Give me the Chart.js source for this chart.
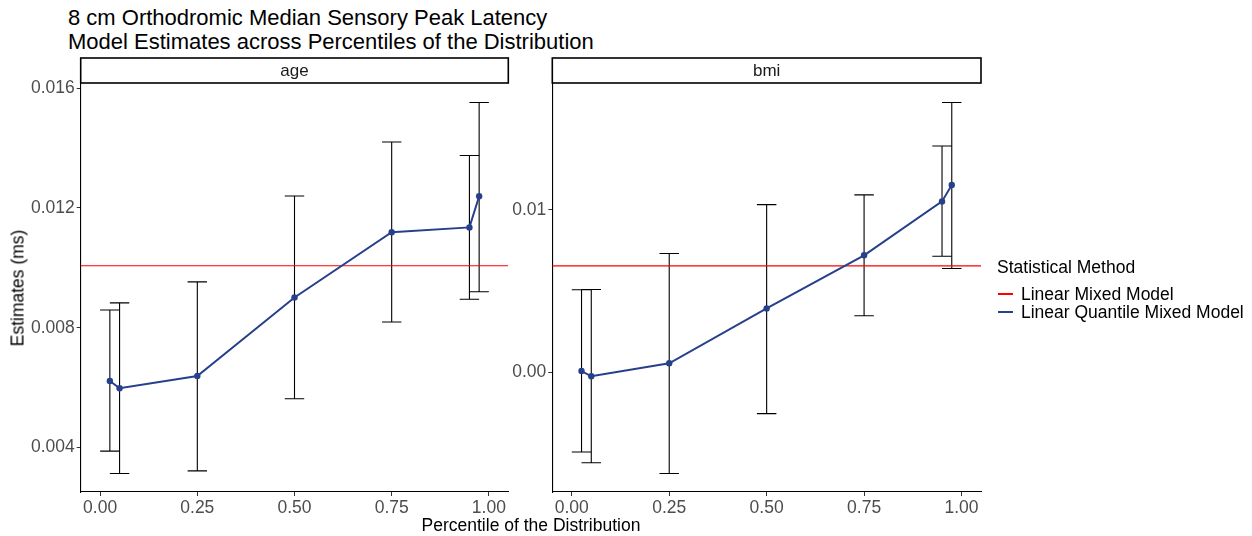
<!DOCTYPE html>
<html><head><meta charset="utf-8">
<script src="https://cdn.jsdelivr.net/npm/chart.js@4.4.0/dist/chart.umd.min.js"></script>
<style>
body{margin:0;background:#fff;}
#wrap{position:relative;width:1252px;height:536px;overflow:hidden;background:#fff;font-family:"Liberation Sans",Arial,sans-serif;color:#000;}
canvas{position:absolute;top:0;}
.t{position:absolute;white-space:nowrap;}
.key{position:absolute;height:2px;width:15px;}
</style></head><body>
<div id="wrap">
<div class="t" style="left:68px;top:6px;font-size:22px;line-height:24px;color:#000;">8 cm Orthodromic Median Sensory Peak Latency<br>Model Estimates across Percentiles of the Distribution</div>
<canvas id="c1" width="520" height="536" style="left:0;width:520px;height:536px"></canvas>
<canvas id="c2" width="520" height="536" style="left:480px;width:520px;height:536px"></canvas>
<div class="t" style="left:18px;top:288px;font-size:17.5px;transform:translate(-50%,-50%) rotate(-90deg);">Estimates (ms)</div>
<div class="t" style="left:531px;top:525px;font-size:17.5px;transform:translate(-50%,-50%);">Percentile of the Distribution</div>
<div class="t" style="left:997px;top:267px;font-size:17.5px;transform:translateY(-50%);">Statistical Method</div>
<div class="key" style="left:998px;top:293px;background:#FF0000;"></div>
<div class="t" style="left:1021px;top:294px;font-size:17.5px;transform:translateY(-50%);">Linear Mixed Model</div>
<div class="key" style="left:998px;top:311px;background:#27408B;"></div>
<div class="t" style="left:1021px;top:312px;font-size:17.5px;transform:translateY(-50%);">Linear Quantile Mixed Model</div>
</div>
<script>
// ---- data ----
const percentiles = [0.025, 0.05, 0.25, 0.5, 0.75, 0.95, 0.975];
const ageEstimate = [0.00622, 0.00598, 0.00639, 0.00901, 0.01119, 0.01135, 0.01239];
const ageLower    = [0.00388, 0.00313, 0.00322, 0.00563, 0.00819, 0.00895, 0.00920];
const ageUpper    = [0.00859, 0.00883, 0.00953, 0.01240, 0.01420, 0.01375, 0.01552];
const ageLMM = 0.01007;
const bmiEstimate = [0.00006, -0.00026, 0.00054, 0.00392, 0.00719, 0.01051, 0.01152];
const bmiLower    = [-0.00492, -0.00559, -0.00625, -0.00256, 0.00347, 0.00713, 0.00638];
const bmiUpper    = [0.00507, 0.00508, 0.00730, 0.01031, 0.01091, 0.01392, 0.01660];
const bmiLMM = 0.00654;
const xTicks = [0, 0.25, 0.5, 0.75, 1];
const xTickLabels = ['0.00', '0.25', '0.50', '0.75', '1.00'];
const ageYTicks = [0.004, 0.008, 0.012, 0.016];
const ageYTickLabels = ['0.004', '0.008', '0.012', '0.016'];
const bmiYTicks = [0, 0.01];
const bmiYTickLabels = ['0.00', '0.01'];
const facetLabels = ['age', 'bmi'];
const seriesLabels = ['Linear Mixed Model', 'Linear Quantile Mixed Model'];
const xMin = -0.05, xMax = 1.05;
const ageYMin = 0.002514, ageYMax = 0.016139;
const bmiYMin = -0.007388, bmiYMax = 0.01774;
const capHalf = 0.025;

const FONT = '"Liberation Sans", Arial, sans-serif';
const BLUE = '#27408B', RED = '#FF0000';

const errorBars = {
  id: 'errorBars',
  beforeDatasetsDraw(chart, args, opts) {
    const ctx = chart.ctx, x = chart.scales.x, y = chart.scales.y;
    ctx.save();
    ctx.strokeStyle = '#000';
    ctx.lineWidth = 1.1;
    opts.lower.forEach((lo, i) => {
      const px = x.getPixelForValue(percentiles[i]);
      const pl = x.getPixelForValue(percentiles[i] - capHalf);
      const pr = x.getPixelForValue(percentiles[i] + capHalf);
      const yl = y.getPixelForValue(lo), yu = y.getPixelForValue(opts.upper[i]);
      ctx.beginPath();
      ctx.moveTo(px, yl); ctx.lineTo(px, yu);
      ctx.moveTo(pl, yl); ctx.lineTo(pr, yl);
      ctx.moveTo(pl, yu); ctx.lineTo(pr, yu);
      ctx.stroke();
    });
    ctx.restore();
  }
};
const strip = {
  id: 'strip',
  afterDraw(chart, args, opts) {
    const ctx = chart.ctx, a = chart.chartArea;
    ctx.save();
    ctx.fillStyle = '#fff';
    ctx.strokeStyle = '#000';
    ctx.lineWidth = 1.6;
    ctx.fillRect(a.left, 58, a.right - a.left, 25);
    ctx.strokeRect(a.left, 58, a.right - a.left, 25);
    ctx.fillStyle = '#1A1A1A';
    ctx.font = '17px ' + FONT;
    ctx.textAlign = 'center';
    ctx.textBaseline = 'middle';
    ctx.fillText(opts.label, (a.left + a.right) / 2, 71);
    ctx.restore();
  }
};

function makeChart(id, est, lo, up, lmm, yMin, yMax, yTicks, yLabels, yWidth, padRight, label) {
  return new Chart(document.getElementById(id), {
    type: 'scatter',
    data: {
      datasets: [
        { label: seriesLabels[0], data: [{x: xMin, y: lmm}, {x: xMax, y: lmm}], showLine: true,
          borderColor: RED, borderWidth: 1.1, pointRadius: 0, order: 2 },
        { label: seriesLabels[1], data: percentiles.map((p, i) => ({x: p, y: est[i]})), showLine: true,
          borderColor: BLUE, backgroundColor: BLUE, borderWidth: 2, pointRadius: 3.2,
          pointBorderWidth: 0, order: 1 }
      ]
    },
    options: {
      responsive: false, animation: false, devicePixelRatio: 1,
      layout: { padding: { top: 84, right: padRight, bottom: 0, left: 0 } },
      plugins: { legend: { display: false }, tooltip: { enabled: false },
        errorBars: { lower: lo, upper: up }, strip: { label } },
      scales: {
        x: { type: 'linear', min: xMin, max: xMax,
          afterBuildTicks: s => { s.ticks = xTicks.map(v => ({ value: v })); },
          afterFit: s => { s.height = 44; },
          ticks: { callback: v => xTickLabels[xTicks.indexOf(v)], font: { size: 17.5, family: FONT },
            color: '#4D4D4D', padding: 2, maxRotation: 0, autoSkip: false },
          grid: { drawOnChartArea: false, drawTicks: true, tickLength: 4, color: '#333', lineWidth: 1 },
          border: { display: true, color: '#000', width: 1.1 } },
        y: { type: 'linear', min: yMin, max: yMax,
          afterBuildTicks: s => { s.ticks = yTicks.map(v => ({ value: v })); },
          afterFit: s => { s.width = yWidth; },
          ticks: { callback: v => yLabels[yTicks.indexOf(v)], font: { size: 17.5, family: FONT },
            color: '#4D4D4D', padding: 2, autoSkip: false },
          grid: { drawOnChartArea: false, drawTicks: true, tickLength: 4, color: '#333', lineWidth: 1 },
          border: { display: true, color: '#000', width: 1.1 } }
      }
    },
    plugins: [errorBars, strip]
  });
}
makeChart('c1', ageEstimate, ageLower, ageUpper, ageLMM, ageYMin, ageYMax, ageYTicks, ageYTickLabels, 80.7, 11.7, facetLabels[0]);
makeChart('c2', bmiEstimate, bmiLower, bmiUpper, bmiLMM, bmiYMin, bmiYMax, bmiYTicks, bmiYTickLabels, 72.3, 19, facetLabels[1]);
</script>
</body></html>
